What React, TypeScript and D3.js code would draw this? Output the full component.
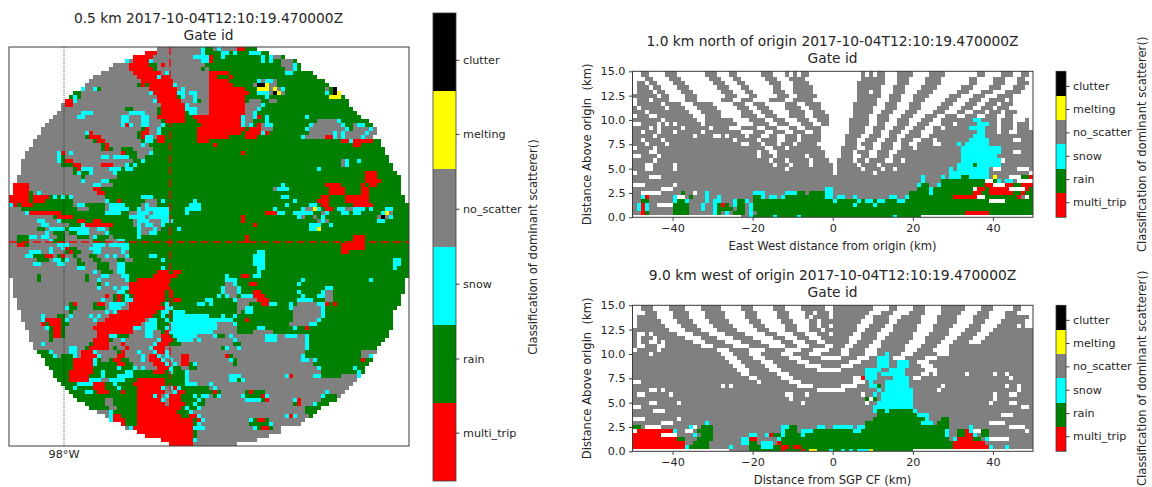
import React, { useEffect, useRef } from "react";
import * as d3 from "d3";

const categories = ["multi_trip", "rain", "snow", "no_scatter", "melting", "clutter"];
const categoryColors = ["#ff0000", "#008000", "#00ffff", "#808080", "#ffff00", "#000000"];
const categoryCodes = ["m", "r", "s", "n", "y", "c"];
const colorbarTicks = [0.62, 1.57, 2.53, 3.49, 4.45, 5.4];

const timeLabel = "2017-10-04T12:10:19.470000Z";
const heightTicks = [0, 2.5, 5, 7.5, 10, 12.5, 15];
const distanceTicks = [-40, -20, 0, 20, 40];

// run-length rows, one letter per class, _ = no data. 50 cols per half.
const ppiNW = [
  "_37 n11 s1 r1", "_34 m3 n11 s1 r1", "_31 m5 n10 s4", "_29 s1 n1 m4 s1 n12 s2 r1", "_26 n4 m5 r2 n1 m1 n10 r1 n1",
  "_25 n5 m6 r1 n11 r1 n1", "_23 n8 m7 n1 s1 n10", "_21 n11 m5 s1 m2 n10", "_20 n13 m8 n9", "_19 n13 r1 m1 r1 m6 s1 n8",
  "_18 s1 n2 s1 r1 n12 m7 n1 s1 n6", "_16 r2 n17 s1 m6 s2 n1 s2 n4", "_15 r1 s1 r1 n19 m5 r1 s1 n2 s1 n3", "_14 m2 s1 n19 s1 m6 n3 s1 r1 n3", "_13 n1 m2 n22 m6 s1 n5",
  "_13 n16 r2 n6 r1 m6 s3 n3", "_12 n6 s3 n9 s4 n3 r1 m6 r1 s2 n3", "_11 n6 s2 n9 s2 n3 s2 n2 m7 r2 m4", "_10 n18 s2 n3 s2 n3 r1 m5 r3 m4", "_9 n19 s1 m1 s1 n2 s2 n3 s1 r9 m2",
  "_8 n25 r1 m1 n2 s1 r9 m3", "_8 n11 s1 m1 n11 r1 m2 n2 s1 r9 m3", "_7 n12 r1 m3 n9 r1 m1 s2 n1 m2 r8 m3", "_6 n15 r1 m2 n9 r1 s2 r1 m2 r8 m3", "_6 n17 r1 m1 n8 s1 n1 r15",
  "_5 n18 r1 m1 r1 n2 r3 n5 r14", "_4 n8 s1 m1 n1 s1 n12 m1 r3 n3 s1 r14", "_4 n8 s1 r1 n9 s2 n1 s4 r2 n2 r16", "_3 n9 s1 r1 m2 n15 r2 s1 r16", "_3 n10 r3 m2 n5 m3 n3 s1 r1 s1 r18",
  "_3 n13 r1 m1 s3 n4 s3 r1 s2 r19", "_3 n13 r1 s1 r2 s1 n5 s1 r23", "_2 n16 r1 n8 r23", "_2 n16 s1 n4 s2 r25", "_1 m4 n16 s2 n3 r24",
  "_1 m4 n16 m2 r27", "_1 m4 r1 n1 s1 n14 m2 r26", "m5 r1 m4 r1 s1 r1 s1 r1 s1 n8 r9 s3 r14", "m5 r1 m3 r7 n8 s1 r2 m1 r6 n3 r1 s1 r7 s1 r3", "s1 m1 r1 m3 r10 n1 s2 r5 n1 s4 r4 n1 s1 n2 r8 s3 r2",
  "n3 r14 n3 r4 n1 s5 r2 s1 n1 s6 r4 s4 r2", "n4 s1 m8 r11 s4 r2 n2 s3 n1 s4 r4 s1 r5", "n11 r1 m4 r14 s4 n1 s5 r10", "n7 s2 n3 s1 r4 m2 r2 m2 r8 n1 s3 n3 s3 r10", "n8 s2 n5 r3 s1 m7 r5 n1 s1 n1 s2 n2 s1 r10",
  "n7 r2 n1 s4 r1 s5 n2 s2 n1 r7 s1 n3 s1 n1 r4 s1 r8", "n9 s1 n1 r3 n1 r2 s3 n4 s1 r7 s1 n2 s2 r13", "n2 r3 s2 n1 s2 n2 r2 n3 r3 n1 s1 r3 n1 r6 s1 r17", "n2 r3 n5 s1 r3 n7 r3 n3 s2 r21", "n2 m2 r1 n7 s3 n6 s3 n1 s5 r20",
];

const ppiNE = [
  "r1 n1 s1 n4 m2 r3", "r3 s2 r1 s1 r3 s3 r2", "m1 r2 s1 r9 s1 r1 s1 n2 r1", "m1 r12 s1 r1 s1 r2 n3 r1", "r18 n3 s1 r1",
  "r19 n2 s1 r1", "m5 r14 s2 r5", "m2 r3 m1 r21", "m5 r7 s1 n1 s2 n1 r12", "m6 r5 n1 c2 y1 n2 r13",
  "m9 r3 y3 n1 y1 n1 s1 r10 n1 r1 c1", "m10 r2 s3 n1 c1 y1 n1 r10 s1 r1 c1 y1", "m9 r5 s1 r15 y3 r1", "m9 r1 n3 r2 n2 r18", "m9 n4 s1 r21",
  "m9 n3 s1 r23", "m9 n2 s1 r25", "m8 s1 n2 s1 m1 r1 s1 r9 s1 r13", "m8 s1 n2 r3 s1 r12 n5 s1 r7", "m8 s1 n1 s1 r1 m1 n1 s2 r9 s1 n7 s1 r2 n1 s2 r2",
  "m9 r1 m3 n3 r8 s1 n9 s1 r1 n4 s1 n1", "m8 r1 m4 s1 m1 r10 n6 s1 n1 s1 n5 s1 n2", "m5 r4 m3 r11 s1 n5 m2 s1 n1 s1 n4 s1 n2", "r33 m2 s1 m5 r2", "r1 m1 r34 m2 r5",
  "r44", "r8 m1 r35", "r45", "r33 n1 s1 r2 s1 r7", "r33 n1 s1 r11",
  "r27 s1 r18", "r39 m3 r5", "r39 m3 r6", "r39 m4 r5", "r18 s1 r10 m4 r5 m1 r1 m2 r6",
  "r16 n1 s3 r10 m4 r4 m2 r8", "r30 m4 r4 m2 r8", "r18 s2 r8 m2 r4 m6 r9", "r21 s1 r5 m3 r4 m6 r9", "r19 s1 r5 s2 r1 m2 r6 m5 r11",
  "r16 s1 r6 s1 n2 y1 s1 r1 m2 r1 s2 n2 s3 r1 s1 r3 s2 r4", "r14 m3 s2 r2 s5 r2 n1 s1 r3 s2 r1 s2 r5 s1 y1 n1 r4", "r8 m1 r13 s1 n1 r2 n1 r1 s1 r13 n1 c1 n1 s1 r4", "r8 m1 r18 n1 s1 n1 r12 s2 r6", "r11 m1 r13 s3 r2 s1 r19",
  "r25 s2 y1 r22", "r50", "r9 m1 r26 m3 r11", "r9 m1 r26 m3 r11", "r33 m6 r11",
];

const ppiSW = [
  "n10 s1 n2 s1 m1 r2 n3 s3 n5 s2 r20", "n5 s3 n2 s1 n3 r1 m1 r2 n3 s2 n5 s1 n1 r20", "n4 s2 r3 m2 n1 r1 m1 n2 r1 n3 r2 n2 s1 n1 s1 n2 s1 r5 s2 r14", "n7 r3 n1 s2 r1 s1 n2 r1 n3 r2 n4 r2 n2 r7 s1 r10", "n6 s2 n4 s2 n3 r2 n3 r3 n2 s2 r21",
  "n17 s2 n3 r3 n2 s2 r9 s1 r11", "n21 s1 n1 r3 n1 s2 r8 m3 r1 m2 r7", "n7 r1 n11 r1 n3 s2 n3 s2 r6 m6 r7", "_1 n6 r1 n11 r1 n2 s1 n6 s1 r2 m8 r10", "_1 n21 r1 n1 s1 n5 m10 r10",
  "_1 n21 s1 n3 s1 n1 s2 m10 r10", "_1 n26 s2 r1 m9 r1 m1 r9", "_1 n23 m1 n1 r1 m1 r1 s1 r1 m8 r1 m1 r8", "_2 n21 s1 n2 r1 m1 r1 s2 m8 r2 m2 r6 s2", "_2 n13 r1 m1 n4 r1 m2 n1 s4 n1 m8 r1 s1 r7 s2 r1",
  "_2 n12 s1 r2 n4 r3 n1 s3 n2 m9 s2 r9", "_3 n12 r1 n8 s1 n1 s1 m10 r1 s2 r1 s3 r6", "_3 n5 s1 n3 r2 n1 s1 n4 s1 n1 s1 n2 m11 r2 s1 r2 s9", "_3 n5 s1 m4 r1 s1 n6 s1 n2 m10 n1 s2 r2 s1 r1 s9", "_4 n4 m1 r1 m3 r2 n7 m11 n1 s3 r3 s10",
  "_4 n5 s1 r1 m2 r1 n7 m10 s2 n1 s3 r2 s11", "_5 n5 r1 m2 r1 n8 m9 n3 s2 n2 r1 m1 s10", "_5 n5 r1 m2 r1 n8 m3 s2 r3 n4 s2 n2 m2 r1 s6 n3", "_5 n5 r1 n10 m4 r1 n2 s1 n8 s1 m3 r1 s4 n1 s1 n2", "_6 n2 s1 n11 r1 m4 n3 m1 n7 s1 m3 r3 n7",
  "_6 n9 s2 n2 r1 m5 n1 r1 n2 m1 n5 s1 m3 n11", "_7 r3 s1 n4 s2 n1 m3 s1 n5 r1 m1 n3 s1 n3 s1 m2 s1 n10", "_8 r3 s1 n1 r3 s1 n1 m4 s1 n4 m2 n4 s1 n1 m2 s1 n1 s1 n3 m2 n5", "_9 r7 m5 s1 r1 n2 r1 m2 r2 n3 s1 n1 m3 s1 n1 s1 n2 m2 n5", "_9 r7 m5 s1 r4 r1 m2 r2 n5 m3 s1 n1 s1 n1 m2 r1 s1 n3",
  "_10 r6 m5 r6 s1 r3 s1 n1 s1 n3 m3 s1 r2 n2 r2 n3", "_11 r4 m6 r2 s1 r5 s2 r5 m3 r1 s1 r3 s1 n5", "_11 r4 m5 r3 s1 r3 s4 r13 s1 n5", "_12 r3 m5 s3 n2 s4 r3 m7 r5 s1 n5", "_13 r4 s4 m3 r2 s1 r4 m8 r5 s3 n3",
  "_14 r2 s1 r4 m3 r3 s1 r4 m6 s1 n1 s1 m1 s1 r7", "_15 r4 s2 r1 m3 r3 m1 r3 m7 n2 s1 m2 r6", "_16 r16 m4 s1 m1 n1 s1 m3 r3 s1 r1 s2", "_17 r7 n2 r6 m6 s1 n1 m3 r4 s1 r1 n2", "_19 r5 n2 r6 m7 n1 m4 r2 s1 r2 n1",
  "_20 r5 n2 r5 m11 r1 s1 r2 s1 n3", "_22 n3 s1 r6 m10 r3 s1 n4", "_24 n1 s1 m2 r4 m11 r2 m2 s1 n2", "_25 s1 m3 r3 m14 r1 m1 s1 n1", "_28 m1 r3 m14 r1 s1 n2",
  "_29 n1 s1 m15 s3 n1", "_32 m14 r1 n3", "_34 m12 r1 n3", "_38 m8 s1 n3", "_40 m6 n4",
];

const ppiSE = [
  "r33 m6 r11", "r12 s2 r19 m2 r15", "r11 s3 r36", "r11 s3 r32 s2 r2", "r11 s3 r32 s2 r2",
  "r12 s2 r32 s1 r3", "r12 s1 r37", "r4 s1 r3 m2 r1 s2 r37", "r4 s3 r16 s1 r16 s1 r8", "r4 n2 s1 r3 m2 r10 s1 r26",
  "r3 s1 n3 s1 r21 s2 r18", "r3 s1 n3 s1 r3 m2 r9 s1 r5 s1 n2 r18", "r2 s1 r1 s1 n2 r1 s3 m3 r9 s1 r3 s2 n2 r17", "s1 r5 s1 n5 m3 r7 s4 r3 n2 r17", "s1 r6 n3 r3 m2 s2 r3 s1 r1 n5 s2 m1 r1 m1 r16",
  "r7 n2 s2 r9 s1 n7 s1 r18", "r7 n1 r1 s2 r9 r1 n7 s1 r17", "r3 s1 r2 s1 r14 n7 s1 r17", "s6 r3 m1 r11 n6 s1 r18", "s2 n4 s1 r13 n5 s2 r19",
  "s2 n5 r5 s2 r7 s1 r2 m1 r21", "s1 n6 r4 n5 r29", "n1 s1 r2 n1 s1 n8 s3 n2 s3 n2 s1 r20", "n6 s1 n7 s3 n7 s1 r19", "n6 r2 n16 s1 r18",
  "n3 r1 s1 n2 s1 n16 s1 r17", "n24 r14 n4", "n4 m1 r1 n17 s1 r14 n2 s1", "n5 s1 r1 n16 s2 n1 s1 r11 m1 r2", "n6 r1 n19 r14",
  "n27 s1 r8 s1 r2", "n28 r9 s1 r1", "n5 s3 n11 s1 m1 n5 s2 r5 n4 s1", "n5 s2 r1 s1 n28", "s1 n35",
  "n1 s1 n33", "r1 m1 r1 n6 r1 m1 r3 n15 s1 n4", "n1 r1 s1 n5 s1 r4 m1 s1 n13 s1 r3 n1", "n9 s4 r1 m1 n6 s1 m1 n5 r4", "n21 r1 m1 n3 s1 r3",
  "n24 r4", "n24 r3", "n19 s1 m1 s1 n3 r1", "n10 s1 r1 m2 r1 n9", "n10 r5 s1 n7",
  "n11 s1 r1 m2 r1 n2", "n18", "n15", "n12", "n7",
];

// vertical sections, top row first: 37 height levels, 50 cols per half
const northWest = [
  "_2 n2 _4 n3 _7 n3 _3 n2 _6 n3 _3 n1 _1 n1 _1 n2", "_2 n2 _4 n3 _7 n3 _3 n2 _6 n3 _3 n1 _1 n1 _1 n2", "_3 n2 _4 n3 _7 n3 _3 n2 _6 n3 _3 n4", "_1 n2 _1 n2 _4 n3 _7 n3 _3 n2 _6 n3 _3 n4", "_1 n3 _1 n2 _4 n3 _7 n3 _3 n2 _6 n2 _3 n5",
  "_1 n4 _1 n2 _4 n3 _7 n3 _3 n2 _5 n3 _2 n5", "n6 _1 n2 _4 n3 _7 n3 _3 n2 _5 n3 _2 n5", "_1 n3 _1 n4 _4 n3 _6 n3 _2 n3 _4 n4 _2 n5", "_1 n6 _1 n4 _3 n5 _5 n3 _2 n3 _5 n3 _2 n4", "n1 _1 n6 _1 n4 _3 n5 _5 n3 _2 n3 _4 n4 _2 n3",
  "n3 _1 n10 _3 n5 _5 n3 _2 n3 _4 n4 _2 n3", "_1 n3 _2 n9 _3 n4 _5 n4 _2 n3 _3 n4 _2 n4", "n7 _1 n8 _2 n7 _4 n4 _2 n3 _3 n3 _2 n3", "_2 n4 _1 n1 _1 n1 _1 n6 _1 n8 _4 n4 _2 n3 _3 n3 _2 n2", "n4 _1 n1 _1 n5 _1 n6 _1 n4 _3 n4 _2 n3 _3 n2 _2 n4",
  "n2 _1 n3 _1 n3 _1 n6 _1 n9 _3 n3 _2 n3 _2 n3 _2 n2", "n5 _1 n9 _1 n4 _2 n1 _1 n4 _1 n3 _2 n2 _2 n3 _1 n5", "n2 _1 n4 _1 n17 _1 n5 _1 n4 _2 n3 _1 n5", "n3 _1 n4 _1 n18 _2 n3 _1 n3 _1 n3 _1 n5", "_1 n4 _1 n27 _2 n3 _1 n8",
  "n4 _2 n25 _1 n2 _2 n12", "_2 n4 _1 n24 _1 n3 _1 n7 _1 n4", "n5 _1 n28 _1 n3 _1 n5 _1 n4", "n3 _2 n5 _1 n24 _1 n3 _1 n4 _1 n5", "n3 _2 n5 _1 n27 _1 n11",
  "_1 n49", "n4 _3 n43", "n50", "_3 n7 _1 n39", "n7 _3 n38 s2",
  "n2 _5 n5 r1 n2 _1 n2 s1 n11 s3 n5 s3 r2 n1 r4 s2", "n2 s1 m1 n6 s1 _2 n1 r1 n3 s1 n2 s1 n8 r2 s1 n1 s2 n1 s1 r10 s2", "n2 r2 n6 s1 r2 s1 n4 s1 n1 s2 n3 s1 r2 s1 n1 r20", "n1 s1 m1 s1 n2 _4 r4 n3 s1 n2 s1 r1 m1 r1 n1 s1 r2 n1 s1 r20", "n1 s1 m1 s1 n6 r4 n3 s1 n2 s1 r4 n1 r2 n1 s1 r20",
  "n2 m1 r1 n6 r4 n6 s1 r1 n1 s1 n1 r3 n1 s1 n1 r19", "_27 n2 s1 r5 s1 r5 s1 r8",
];

const northEast = [
  "_7 n1 _1 n1 _1 n2 _3 n4 _4 n4 _8 n2 _4 n3 _2 n2", "_7 n1 _1 n1 _1 n2 _3 n4 _4 n4 _8 n2 _4 n3 _2 n2", "_7 n6 _3 n3 _4 n4 _7 n2 _4 n3 _3 n2", "_6 n7 _3 n3 _4 n4 _7 n2 _4 n3 _3 n3", "_6 n6 _3 n3 _4 n4 _6 n3 _4 n3 _3 n3",
  "_6 n3 _1 n2 _3 n3 _3 n4 _6 n3 _3 n3 _3 n4", "_6 n6 _2 n3 _3 n4 _5 n3 _3 n3 _3 n4", "_6 n5 _3 n3 _3 n3 _5 n3 _3 n3 _2 n4 _1 n1", "_5 n6 _2 n3 _3 n3 _5 n3 _3 n3 _2 n3 _1 n3", "_5 n5 _3 n3 _3 n3 _4 n3 _3 n3 _2 n3 _1 n3",
  "_5 n5 _2 n3 _3 n3 _4 n3 _3 n2 _2 n3 _1 n3 _1 n3", "_5 n4 _2 n3 _3 n3 _3 n3 _2 n3 _2 n3 _2 n3 _2 n2", "_4 n5 _2 n3 _2 n3 _3 n3 _2 n8 s2 n4 _1 n3 _3 n1", "_4 n5 _2 n2 _3 n3 _2 n3 _3 n3 _1 n5 s3 n2 _1 n3 _1 n3 _1 n1", "_4 n4 _2 n3 _2 n3 _2 n3 _2 n2 _1 n6 s4 n3 _1 n3 _1 n3",
  "_4 n4 _2 n2 _2 n3 _2 n3 _3 n11 s2 n3 _1 n2 _2 n4", "_3 n4 _2 n3 _2 n2 _2 n4 _2 n11 s3 n12", "_3 n3 _2 n3 _2 n3 _1 n3 _2 n3 _1 n8 s5 n6 _2 n3", "_3 n3 _1 n3 _2 n3 _2 n2 _2 n4 _2 n4 s1 n1 s6 n11", "_2 n4 _2 n2 _2 n3 _2 n3 _1 n11 s10 n8",
  "_2 n3 _1 n3 _2 n3 _2 n16 s10 n3 _2 n3", "_2 n3 _2 n2 _2 n3 _1 n17 s9 n9", "_1 n4 _1 n2 _1 n4 _2 n2 _1 n14 s10 _1 n7", "_1 n5 _1 n4 _1 n19 s4 r1 s6 n8", "_1 n6 _1 n4 _1 n2 _1 n13 s1 n1 s8 n1 _2 n4 _3 n3",
  "_1 n9 _1 n18 s10 n10", "n22 s1 n4 s1 n1 s3 r2 s5 n1 y1 n3 _3 r2 m1 r1", "n22 s1 n4 r11 _2 r1 s1 n1 s2 n1 _4", "n21 s1 r2 n2 s1 r11 m2 _3 m2 r2 m3", "n21 r3 s1 r10 _1 m2 r1 m5 _4 m1 r1",
  "n19 r5 s1 r10 m2 r2 m6 r2 m1 r2", "n1 s2 n2 s1 n8 s2 n2 s1 r11 m6 _2 r8 m1 n1 _1 r1", "s1 r5 s1 r1 s2 r1 s2 r3 s2 r21 _4 r7", "r5 s1 r4 s1 r39", "r50",
  "r33 m6 r11", "r15 s1 r6 _28",
];

const westWest = [
  "_2 n3 _4 n4 _4 n5 _5 n3 _5 n3 _4 n6 _2", "_2 n3 _4 n4 _4 n5 _5 n3 _5 n3 _4 n6 _2", "_3 n3 _4 n4 _4 n5 _5 n3 _5 n3 _4 n2 _1 n3 _1 n1", "_1 n5 _4 n4 _4 n5 _5 n3 _5 n3 _4 n1 _1 n4 _1 n2", "_1 n6 _4 n4 _4 n5 _5 n3 _5 n3 _4 n2 _1 n3 _1",
  "_1 n7 _4 n4 _4 n5 _5 n3 _5 n3 _3 n2 _1 n2", "n9 _4 n4 _4 n5 _5 n3 _4 n3 _3 n3 _1 n2", "n1 _2 n1 _1 n6 _4 n4 _4 n5 _5 n3 _4 n3 _3 n3 _1 n1", "n1 _1 n3 _1 n7 _4 n4 _4 n5 _5 n3 _3 n3 _3 n4 _1 n1", "n1 _1 n2 _2 n1 _1 n7 _3 n5 _4 n5 _5 n3 _3 n3 _2 n2",
  "n1 _2 n3 _2 n9 _3 n5 _4 n5 _4 n3 _3 n4 _3 n1", "_1 n5 _1 n14 _3 n5 _4 n5 _4 n3 _4 n5", "n4 _1 n17 _3 n4 _3 n5 _3 n4 _3 n3", "n23 _3 n4 _3 n6 _3 n5 _3", "n24 _3 n5 _3 n6 _3 n6",
  "n25 _3 n5 _3 n7 _4 n3", "n26 _3 n5 _3 n9 _4", "n27 _2 n7 _3 n11", "n29 _2 n6 _3 n10", "_2 n29 _1 n7 _3 n8",
  "n22 _1 n1 _1 n16 _4 n5", "n4 _2 n1 _1 n38 _4", "n1 _2 n6 _1 n28 _2 n3 _1 n6", "n39 _1 n10", "n4 _2 n5 _1 n30 _1 n7",
  "_2 n48", "n5 _3 n42", "n50", "_3 n8 _1 n38", "n7 _3 n8 s1 n31",
  "r2 n1 _4 n7 s1 _1 n1 r3 n17 s2 r2 n5 s2 n2", "_1 m9 s1 n2 _2 n1 r4 n17 s1 r3 n1 s3 r5", "m7 _4 n4 s1 n1 r3 n9 s2 n2 s1 m1 r2 s1 r4 s1 r8", "m11 r2 n3 r4 n7 s2 m2 n5 s1 r13", "m13 n2 r4 n8 s2 r2 n1 s3 n1 m1 r13",
  "m13 s1 r5 n5 s1 n4 r3 s3 r2 m2 r1 m2 r8", "_24 n5 r8 m1 r4 m1 r1 y2 r3 s1 r1",
];

const westEast = [
  "n10 _4 n2 _4 n3 _4 n6 _4 n3 _5 n2 _3", "n10 _4 n2 _4 n3 _4 n6 _4 n3 _5 n2 _3", "n9 _3 n3 _4 n4 _4 n5 _4 n3 _4 n3 _4", "n8 _2 n4 _3 n5 _4 n5 _4 n4 _4 n6 _1", "n7 _3 n4 _2 n6 _4 n5 _4 n3 _4 n6 _2",
  "n6 _3 n4 _2 n6 _4 n5 _4 n3 _4 n5 _1 n1 _2", "n6 _2 n4 _3 n6 _4 n4 _4 n4 _3 n10", "n5 _2 n4 _3 n6 _4 n5 _3 n4 _3 n11", "n4 _3 n4 _2 n7 _3 n5 _3 n4 _3 n12", "n4 _2 n4 _2 n7 _4 n4 _3 n4 _3 n13",
  "n3 _2 n4 _3 n6 _4 n4 _3 n21", "n2 _2 n4 _3 n7 _3 n4 _4 n21", "n2 _2 n4 _3 n2 s1 n3 _3 n6 _3 n21", "_2 n4 _3 n2 s3 n1 _3 n5 _3 n24", "n4 _3 n4 s3 n2 s3 n2 _3 n26",
  "n2 _3 n6 s3 n2 s3 n3 _3 n25", "_2 n6 s4 n2 s4 n5 _3 n24", "n8 s3 n1 s6 n4 _2 n1 _1 n7 _1 n6 _1 n2 _1 n6", "n5 _2 m1 s3 n4 s4 n1 _2 n22 _1 n5", "n5 _3 n1 s1 n3 s6 n31",
  "n2 _4 n3 s2 r1 n1 s6 n8 _1 n15 _1 n2 _1 n3", "_3 n8 s1 n1 s7 n6 _1 n19 _1 n3", "n7 _1 n2 s1 n1 s8 n20 _1 n3 _2 n4", "n8 r1 _1 r1 n1 s8 n20 _1 n9", "n8 _1 n2 s9 n19 _1 n4 _2 n3",
  "n10 s10 n27 _2 n1", "n10 s1 r2 s1 r6 s1 n29", "n11 r10 s3 n18 _3 n5", "n10 r13 s1 n3 r2 n21", "n8 r14 s3 n1 r3 n10 _4 n7",
  "s5 n1 s2 r21 n5 s1 n9 _4 n2", "r5 s2 r21 s1 n2 r2 m1 s1 _2 r2 n9 _1 n1", "r28 s1 n2 r2 m2 s1 n1 r2 n11", "r29 n1 s1 m4 r2 n1 s1 _5 n6", "r30 m8 n12",
  "r30 m9 s1 n3 s1 n6", "r2 s1 r1 s1 r1 s3 y1 r10 _30",
];

const PPI_SIZE = 100;
const HALF = 50;

// a left half that comes up short keeps its last class up to the centre line
function expandRow(row: string, padLast = false): string[] {
  const out: string[] = [];
  row.split(" ").forEach((tok) => {
    const n = +tok.slice(1);
    for (let i = 0; i < n; i++) out.push(tok[0]);
  });
  const pad = padLast ? out[out.length - 1] : "_";
  while (out.length < HALF) out.push(pad);
  return out.slice(0, HALF);
}

function joinHalves(left: string[], right: string[], padLeft: boolean, padRight: boolean) {
  return left.map((row, i) => [...expandRow(row, padLeft), ...expandRow(right[i], padRight)]);
}

const FONT = "'DejaVu Sans', sans-serif";
const TEXT = "#262626";
const BORDER = "#3a3a3a";
const TICK_SIZE = 11.2;
const LABEL_SIZE = 11.6;
const TITLE_SIZE = 13.8;

const color = d3.scaleOrdinal<string, string>().domain(categoryCodes).range(categoryColors);

type Sel = d3.Selection<SVGGElement, unknown, null, undefined>;

function drawColorbar(g: Sel, x: number, y0: number, y1: number, w: number, labelX: number) {
  const y = d3.scaleLinear().domain([0, categories.length]).range([y1, y0]);
  g.append("g")
    .selectAll("rect")
    .data(categories)
    .join("rect")
    .attr("x", x)
    .attr("y", (d, i) => y(i + 1))
    .attr("width", w)
    .attr("height", (d, i) => y(i) - y(i + 1))
    .attr("fill", (d, i) => categoryColors[i])
    .attr("shape-rendering", "crispEdges");
  g.append("rect")
    .attr("x", x).attr("y", y0).attr("width", w).attr("height", y1 - y0)
    .attr("fill", "none").attr("stroke", BORDER).attr("stroke-width", 0.8);
  const axis = g.append("g")
    .attr("transform", `translate(${x + w},0)`)
    .call(
      d3.axisRight(y)
        .tickValues(colorbarTicks)
        .tickFormat((d, i) => categories[i])
        .tickSize(3.5)
        .tickPadding(3.5)
    );
  axis.select(".domain").remove();
  axis.selectAll("line").attr("stroke", BORDER);
  axis.selectAll("text").attr("fill", TEXT).attr("font-family", FONT).attr("font-size", TICK_SIZE);
  g.append("text")
    .attr("transform", `translate(${labelX},${(y0 + y1) / 2}) rotate(-90)`)
    .attr("text-anchor", "middle")
    .attr("font-family", FONT)
    .attr("font-size", LABEL_SIZE)
    .attr("fill", TEXT)
    .text("Classification of dominant scatterer()");
}

function drawTitle(g: Sel, cx: number, y: number, line1: string) {
  [line1, "Gate id"].forEach((t, i) => {
    g.append("text")
      .attr("x", cx).attr("y", y + i * 17)
      .attr("text-anchor", "middle")
      .attr("font-family", FONT).attr("font-size", TITLE_SIZE).attr("fill", TEXT)
      .text(t);
  });
}

function drawPpi(g: Sel) {
  const cells = [...joinHalves(ppiNW, ppiNE, true, false), ...joinHalves(ppiSW, ppiSE, true, false)];
  const x = d3.scaleLinear().domain([0, PPI_SIZE]).range([9, 409]);
  const y = d3.scaleLinear().domain([0, PPI_SIZE]).range([47, 446]);
  cells.forEach((row, r) => {
    row.forEach((c, col) => {
      if (c === "_") return;
      g.append("rect")
        .attr("x", x(col)).attr("y", y(r))
        .attr("width", x(col + 1) - x(col)).attr("height", y(r + 1) - y(r))
        .attr("fill", color(c))
        .attr("shape-rendering", "crispEdges");
    });
  });
  // origin cross and the longitude line
  g.append("line").attr("x1", x(0)).attr("x2", x(100)).attr("y1", 242).attr("y2", 242)
    .attr("stroke", "#ff0000").attr("stroke-width", 1.5).attr("stroke-dasharray", "8 4");
  g.append("line").attr("x1", 170).attr("x2", 170).attr("y1", y(0)).attr("y2", y(100))
    .attr("stroke", "#ff0000").attr("stroke-width", 1.5).attr("stroke-dasharray", "8 4");
  g.append("line").attr("x1", 64).attr("x2", 64).attr("y1", y(0)).attr("y2", y(100))
    .attr("stroke", "#000").attr("stroke-width", 1).attr("stroke-dasharray", "1 1").attr("opacity", 0.6);
  g.append("rect").attr("x", 9).attr("y", 47).attr("width", 400).attr("height", 399)
    .attr("fill", "none").attr("stroke", BORDER).attr("stroke-width", 1);
  g.append("text").attr("x", 64).attr("y", 458).attr("text-anchor", "middle")
    .attr("font-family", FONT).attr("font-size", TICK_SIZE).attr("fill", TEXT).text("98°W");
  drawTitle(g, 208.5, 23, `0.5 km ${timeLabel}`);
  drawColorbar(g, 433, 13, 481, 23, 537);
}

function drawSection(g: Sel, top: number, rows: string[][], title: string, xLabel: string) {
  const bottom = top + 146;
  const x = d3.scaleLinear().domain([-50, 50]).range([632.5, 1033]);
  const y = d3.scaleLinear().domain([0, 15]).range([bottom, top]);
  const dz = 15 / 36;
  const levels = rows.length;
  rows.forEach((row, i) => {
    const k = levels - 1 - i;
    const z0 = Math.max(0, (k - 0.5) * dz);
    const z1 = Math.min(15, (k + 0.5) * dz);
    row.forEach((c, col) => {
      if (c === "_") return;
      g.append("rect")
        .attr("x", x(col - 50)).attr("y", y(z1))
        .attr("width", x(col - 49) - x(col - 50)).attr("height", y(z0) - y(z1))
        .attr("fill", color(c))
        .attr("shape-rendering", "crispEdges");
    });
  });
  const xAxis = g.append("g")
    .attr("transform", `translate(0,${bottom})`)
    .call(d3.axisBottom(x).tickValues(distanceTicks).tickSize(3.5).tickPadding(3.5));
  const yAxis = g.append("g")
    .attr("transform", "translate(632.5,0)")
    .call(d3.axisLeft(y).tickValues(heightTicks).tickFormat(d3.format(".1f") as any).tickSize(3.5).tickPadding(3.5));
  [xAxis, yAxis].forEach((a) => {
    a.select(".domain").remove();
    a.selectAll("line").attr("stroke", BORDER);
    a.selectAll("text").attr("fill", TEXT).attr("font-family", FONT).attr("font-size", TICK_SIZE);
  });
  g.append("rect").attr("x", 632.5).attr("y", top).attr("width", 400.5).attr("height", 146)
    .attr("fill", "none").attr("stroke", BORDER).attr("stroke-width", 1);
  g.append("text").attr("x", 832.5).attr("y", bottom + 33).attr("text-anchor", "middle")
    .attr("font-family", FONT).attr("font-size", LABEL_SIZE).attr("fill", TEXT).text(xLabel);
  g.append("text")
    .attr("transform", `translate(591,${(top + bottom) / 2}) rotate(-90)`)
    .attr("text-anchor", "middle")
    .attr("font-family", FONT).attr("font-size", LABEL_SIZE).attr("fill", TEXT)
    .style("white-space", "pre")
    .text("Distance Above origin  (km)");
  drawTitle(g, 832.5, top - 25, title);
  drawColorbar(g, 1056, top, bottom, 10, 1146);
}

export default function App() {
  const svgRef = useRef<SVGSVGElement>(null);

  useEffect(() => {
    const svg = d3.select(svgRef.current!);
    svg.selectAll("*").remove();
    drawPpi(svg.append("g") as any);
    drawSection(svg.append("g") as any, 71.3, joinHalves(northWest, northEast, false, false), `1.0 km north of origin ${timeLabel}`, "East West distance from origin (km)");
    drawSection(svg.append("g") as any, 305.3, joinHalves(westWest, westEast, false, true), `9.0 km west of origin ${timeLabel}`, "Distance from SGP CF (km)");
  }, []);

  return (
    <svg
      ref={svgRef}
      width={1152}
      height={487}
      style={{ position: "absolute", left: 0, top: 0, background: "#fff" }}
    />
  );
}
